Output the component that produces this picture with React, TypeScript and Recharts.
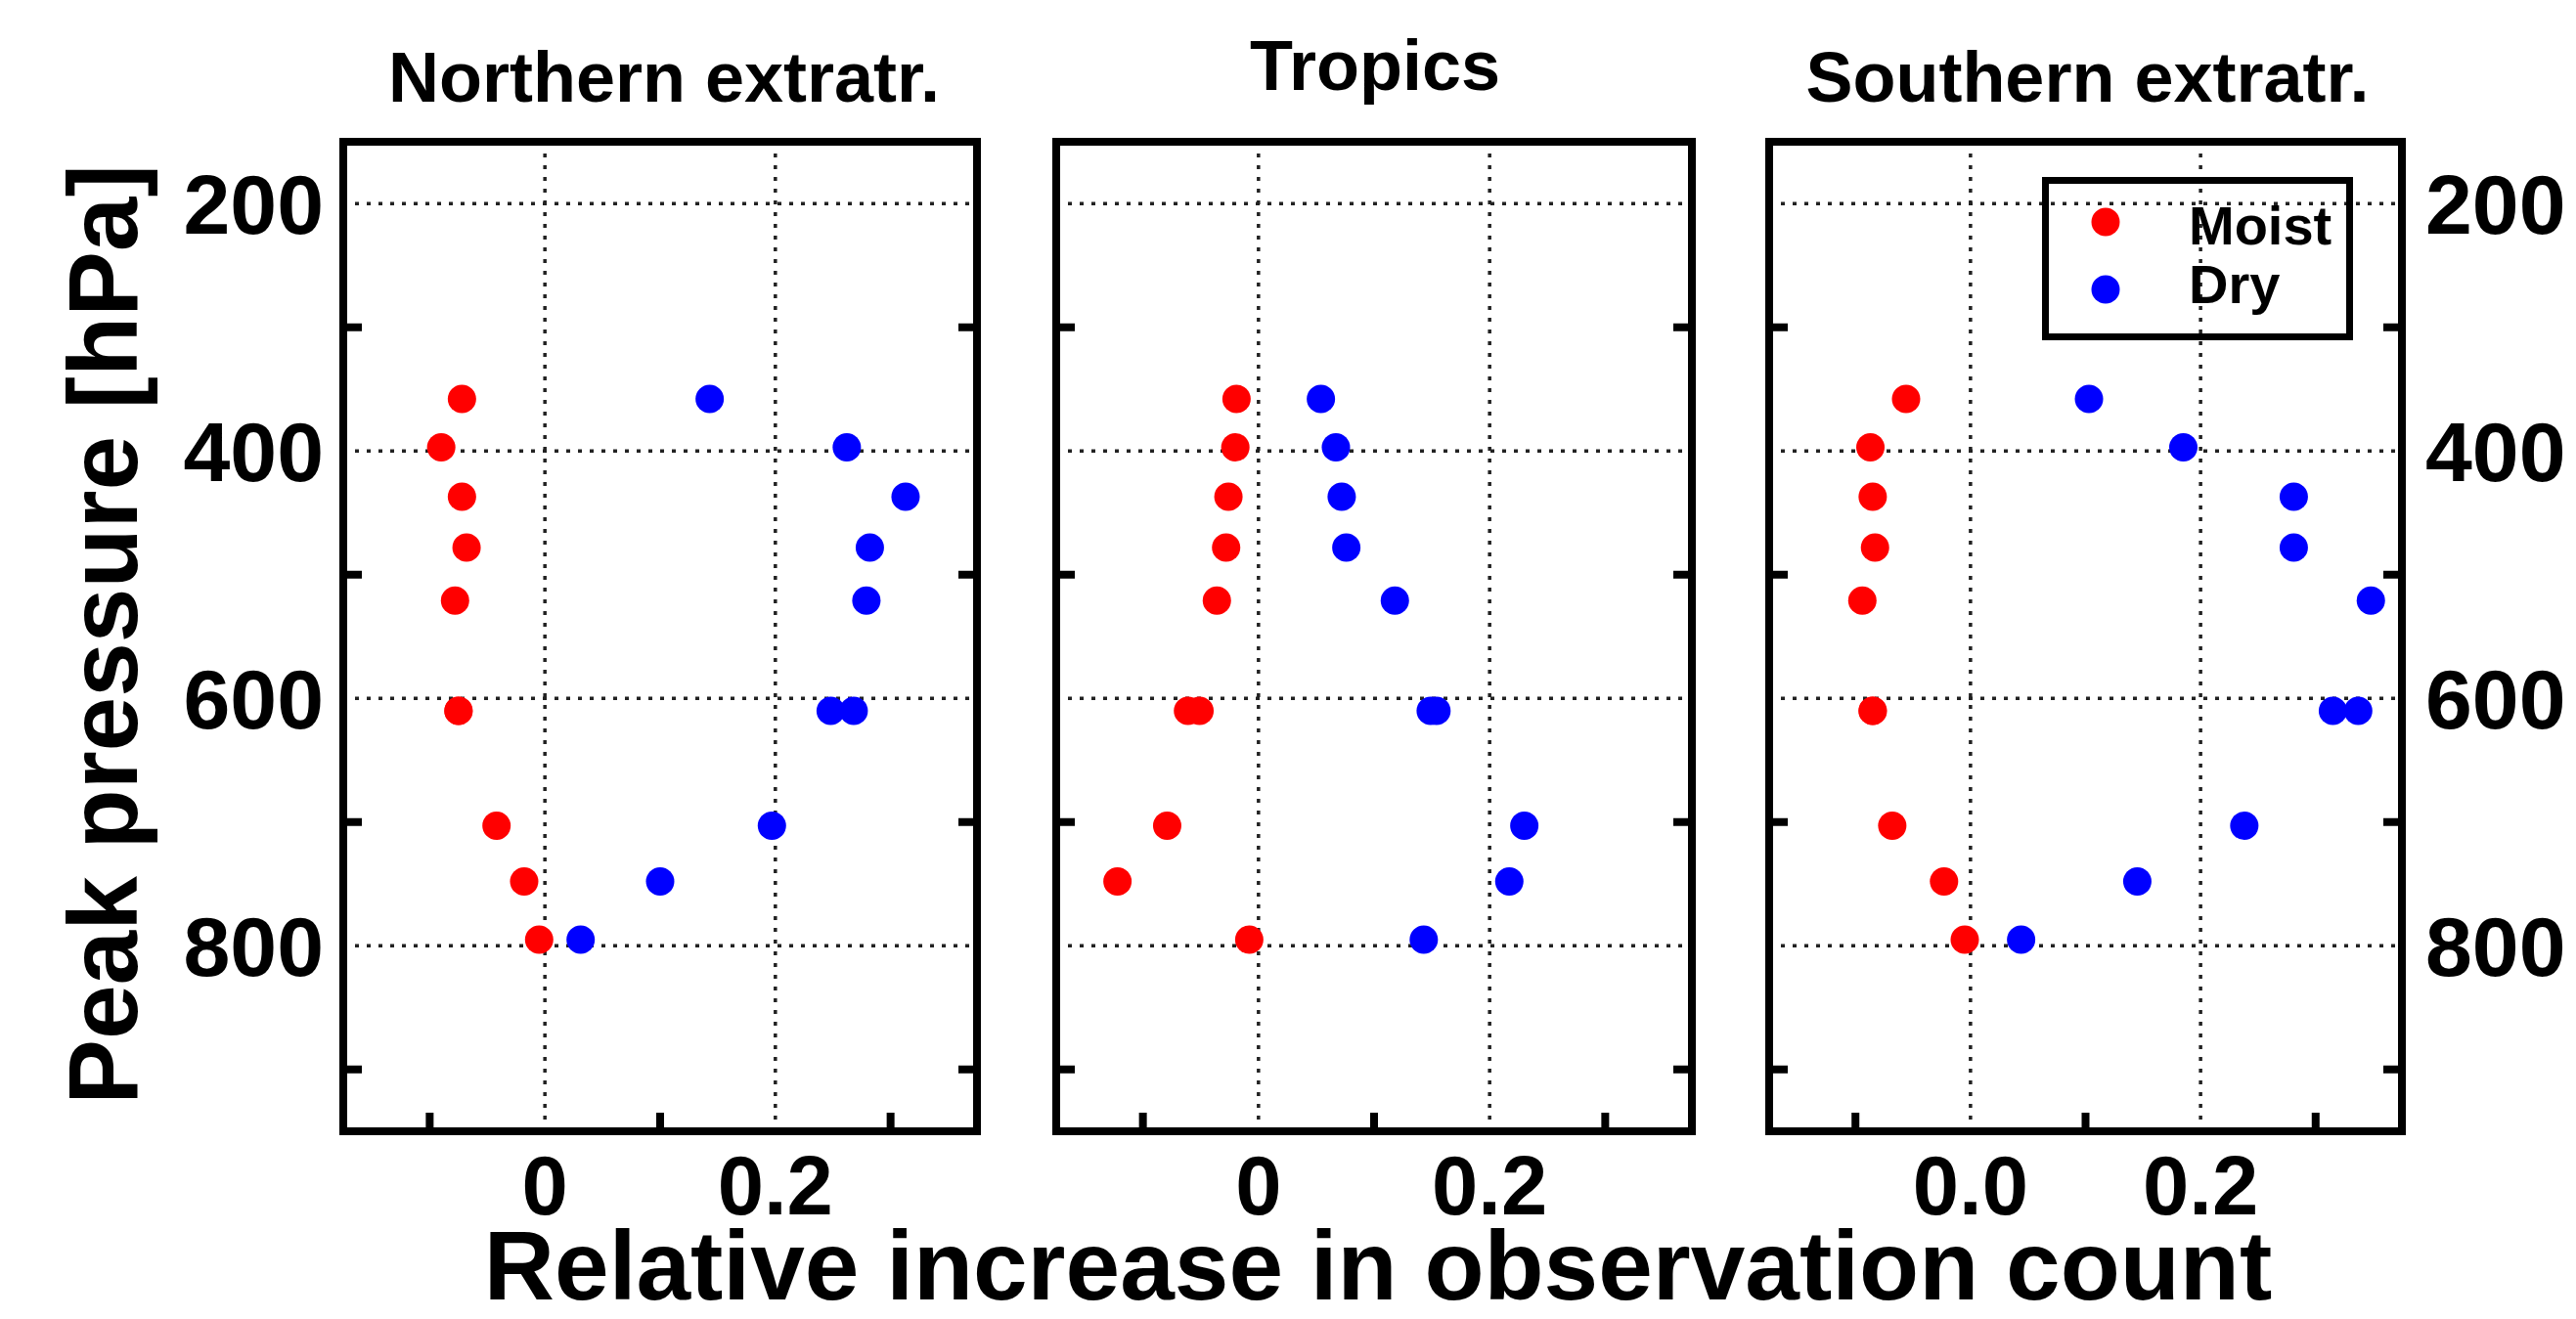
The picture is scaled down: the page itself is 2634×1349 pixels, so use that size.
import React from 'react';
import { ScatterChart, Scatter, XAxis, YAxis, ReferenceLine, Legend } from 'recharts';

// ---------- data ----------
const pressureLevels = [358, 397, 437, 478, 521, 610, 610, 703, 748, 795];

const northMoist = [-0.072, -0.09, -0.072, -0.068, -0.078, -0.075, -0.075, -0.042, -0.018, -0.005];
const northDry = [0.143, 0.262, 0.313, 0.282, 0.279, 0.248, 0.268, 0.197, 0.1, 0.031];

const tropicsMoist = [-0.019, -0.02, -0.026, -0.028, -0.036, -0.061, -0.051, -0.079, -0.122, -0.008];
const tropicsDry = [0.054, 0.067, 0.072, 0.076, 0.118, 0.149, 0.154, 0.23, 0.217, 0.143];

const southMoist = [-0.056, -0.087, -0.085, -0.083, -0.094, -0.085, -0.085, -0.068, -0.023, -0.005];
const southDry = [0.103, 0.185, 0.281, 0.281, 0.348, 0.315, 0.337, 0.238, 0.145, 0.044];

const regionTitles = ['Northern extratr.', 'Tropics', 'Southern extratr.'];
const seriesNames = ['Moist', 'Dry'];
const seriesColors = ['#ff0000', '#0000ff'];

const xDomain = [-0.175, 0.375];
const yDomain = [150, 950];
const xLabelTicks = [0, 0.2];
const xMinorTicks = [-0.1, 0.1, 0.3];
const xTickLabels = [
  ['0', '0.2'],
  ['0', '0.2'],
  ['0.0', '0.2'],
];
const yLabelTicks = [200, 400, 600, 800];
const yMinorTicks = [300, 500, 700, 900];
const yTickLabels = ['200', '400', '600', '800'];

const yAxisTitle = 'Peak pressure [hPa]';
const xAxisTitle = 'Relative increase in observation count';

// ---------- layout ----------
const W = 2634;
const H = 1349;
const FONT = '"Liberation Sans", Arial, Helvetica, sans-serif';
const FRAME = 8;
const TICK_LEN = 19;
const PLOT_TOP = 145;
const PLOT_BOTTOM = 1157;
const AXIS_W = 150;
const BOTTOM_AXIS_H = 150;
const TOP_AXIS_H = 10;

const panels = [
  { left: 351, right: 999, moist: northMoist, dry: northDry, titleDy: 41, titleDx: 4 },
  { left: 1080, right: 1730, moist: tropicsMoist, dry: tropicsDry, titleDy: 53, titleDx: 1 },
  { left: 1809, right: 2456, moist: southMoist, dry: southDry, titleDy: 41, titleDx: 2 },
];

const toPoints = (vals: number[]) => vals.map((v, i) => ({ x: v, y: pressureLevels[i] }));

const allYTicks = [...yLabelTicks, ...yMinorTicks].sort((a, b) => a - b);
const allXTicks = [...xLabelTicks, ...xMinorTicks].sort((a, b) => a - b);

const axisLine = { stroke: '#000', strokeWidth: FRAME, strokeLinecap: 'square' as const };
const gridStyle = { stroke: '#222', strokeWidth: 3.5, strokeDasharray: '4 8' };

const Dot = (props: any) => {
  const { cx, cy, fill } = props;
  if (cx == null || cy == null) return null;
  return <circle cx={cx} cy={cy} r={14.5} fill={fill} />;
};

function bottomTick(labels: string[]) {
  return (p: any) => {
    const { x, y, payload } = p;
    const idx = xLabelTicks.indexOf(payload.value);
    if (idx >= 0) {
      return (
        <text x={x} y={y + 85} textAnchor="middle" fontSize={85} fontWeight="bold" fontFamily={FONT} fill="#000">
          {labels[idx]}
        </text>
      );
    }
    return <line x1={x} x2={x} y1={y} y2={y - TICK_LEN} stroke="#000" strokeWidth={FRAME} />;
  };
}

const topTick = (p: any) => {
  const { x, y } = p;
  return <line x1={x} x2={x} y1={y} y2={y + TICK_LEN} stroke="#000" strokeWidth={FRAME} />;
};

function leftTick(showLabels: boolean) {
  return (p: any) => {
    const { x, y, payload } = p;
    const idx = yLabelTicks.indexOf(payload.value);
    if (idx >= 0) {
      if (!showLabels) return <g />;
      return (
        <text x={x - 20} y={y + 31} textAnchor="end" fontSize={86} fontWeight="bold" fontFamily={FONT} fill="#000">
          {yTickLabels[idx]}
        </text>
      );
    }
    return <line x1={x} x2={x + TICK_LEN} y1={y} y2={y} stroke="#000" strokeWidth={FRAME} />;
  };
}

function rightTick(showLabels: boolean) {
  return (p: any) => {
    const { x, y, payload } = p;
    const idx = yLabelTicks.indexOf(payload.value);
    if (idx >= 0) {
      if (!showLabels) return <g />;
      return (
        <text x={x + 24} y={y + 31} textAnchor="start" fontSize={86} fontWeight="bold" fontFamily={FONT} fill="#000">
          {yTickLabels[idx]}
        </text>
      );
    }
    return <line x1={x} x2={x - TICK_LEN} y1={y} y2={y} stroke="#000" strokeWidth={FRAME} />;
  };
}

const LegendBox = () => (
  <svg width={318} height={167} style={{ display: 'block', overflow: 'visible' }}>
    <rect x={3.5} y={3.5} width={311} height={160} fill="none" stroke="#000" strokeWidth={7} />
    {seriesNames.map((name, i) => (
      <g key={name}>
        <circle cx={65} cy={46 + i * 69} r={14.5} fill={seriesColors[i]} />
        <text x={150} y={69 + i * 60} fontSize={56} fontWeight="bold" fontFamily={FONT} fill="#000">
          {name}
        </text>
      </g>
    ))}
  </svg>
);

function Panel({ index }: { index: number }) {
  const pn = panels[index];
  const moistData = toPoints(pn.moist);
  const dryData = toPoints(pn.dry);
  const margin = {
    top: PLOT_TOP - TOP_AXIS_H,
    bottom: H - PLOT_BOTTOM - BOTTOM_AXIS_H,
    left: pn.left - AXIS_W,
    right: W - pn.right - AXIS_W,
  };

  const titleContent = (props: any) => {
    const vb = props.viewBox || { x: pn.left, y: PLOT_TOP - TOP_AXIS_H, width: pn.right - pn.left, height: TOP_AXIS_H };
    const cx = vb.x + vb.width / 2 + pn.titleDx;
    const top = vb.y + vb.height;
    return (
      <text x={cx} y={top - pn.titleDy} textAnchor="middle" fontSize={72} fontWeight="bold" fontFamily={FONT} fill="#000">
        {regionTitles[index]}
      </text>
    );
  };

  const yTitleContent = (props: any) => {
    const vb = props.viewBox || { x: pn.left - AXIS_W, y: PLOT_TOP, width: AXIS_W, height: PLOT_BOTTOM - PLOT_TOP };
    const bx = vb.x + vb.width - 211;
    const cy = vb.y + vb.height / 2 - 2;
    return (
      <text
        x={bx}
        y={cy}
        transform={`rotate(-90 ${bx} ${cy})`}
        textAnchor="middle"
        fontSize={100}
        fontWeight="bold"
        fontFamily={FONT}
        fill="#000"
      >
        {yAxisTitle}
      </text>
    );
  };

  const xTitleContent = (props: any) => {
    const vb = props.viewBox || { x: pn.left, y: PLOT_BOTTOM, width: pn.right - pn.left, height: BOTTOM_AXIS_H };
    const cx = vb.x + vb.width / 2 + 4;
    return (
      <text x={cx} y={vb.y + 172} textAnchor="middle" fontSize={100} fontWeight="bold" fontFamily={FONT} fill="#000">
        {xAxisTitle}
      </text>
    );
  };

  return (
    <div style={{ position: 'absolute', left: 0, top: 0, width: W, height: H }}>
      <ScatterChart width={W} height={H} margin={margin}>
        <XAxis
          xAxisId={0}
          type="number"
          dataKey="x"
          domain={xDomain}
          allowDataOverflow
          ticks={allXTicks}
          interval={0}
          height={BOTTOM_AXIS_H}
          tickSize={0}
          tickMargin={0}
          tickLine={false}
          axisLine={axisLine}
          tick={bottomTick(xTickLabels[index])}
          label={index === 1 ? { content: xTitleContent } : undefined}
        />
        <XAxis
          xAxisId="top"
          orientation="top"
          type="number"
          domain={xDomain}
          allowDataOverflow
          ticks={xMinorTicks}
          interval={0}
          height={TOP_AXIS_H}
          tickSize={0}
          tickMargin={0}
          tickLine={false}
          axisLine={axisLine}
          tick={topTick}
          label={{ content: titleContent }}
        />
        <YAxis
          yAxisId={0}
          type="number"
          dataKey="y"
          domain={yDomain}
          reversed
          allowDataOverflow
          ticks={allYTicks}
          interval={0}
          width={AXIS_W}
          tickSize={0}
          tickMargin={0}
          tickLine={false}
          axisLine={axisLine}
          tick={leftTick(index === 0)}
          label={index === 0 ? { content: yTitleContent } : undefined}
        />
        <YAxis
          yAxisId="right"
          orientation="right"
          type="number"
          domain={yDomain}
          reversed
          allowDataOverflow
          ticks={allYTicks}
          interval={0}
          width={AXIS_W}
          tickSize={0}
          tickMargin={0}
          tickLine={false}
          axisLine={axisLine}
          tick={rightTick(index === 2)}
        />
        {xLabelTicks.map((v) => (
          <ReferenceLine key={`vx${v}`} x={v} xAxisId={0} yAxisId={0} {...gridStyle} />
        ))}
        {yLabelTicks.map((v) => (
          <ReferenceLine key={`hy${v}`} y={v} xAxisId={0} yAxisId={0} {...gridStyle} />
        ))}
        <Scatter
          name={seriesNames[0]}
          data={moistData}
          fill={seriesColors[0]}
          xAxisId={0}
          yAxisId={0}
          shape={<Dot />}
          isAnimationActive={false}
        />
        <Scatter
          name={seriesNames[1]}
          data={dryData}
          fill={seriesColors[1]}
          xAxisId={0}
          yAxisId={0}
          shape={<Dot />}
          isAnimationActive={false}
        />
        {index === 2 && (
          <Legend
            layout="vertical"
            align="center"
            verticalAlign="middle"
            content={() => <LegendBox />}
            wrapperStyle={{ position: 'absolute', left: 2088, top: 181, width: 318, height: 167 }}
          />
        )}
      </ScatterChart>
    </div>
  );
}

export default function App() {
  return (
    <div style={{ position: 'absolute', left: 0, top: 0, width: W, height: H, background: '#fff', overflow: 'hidden' }}>
      {panels.map((_, i) => (
        <Panel key={i} index={i} />
      ))}
    </div>
  );
}
